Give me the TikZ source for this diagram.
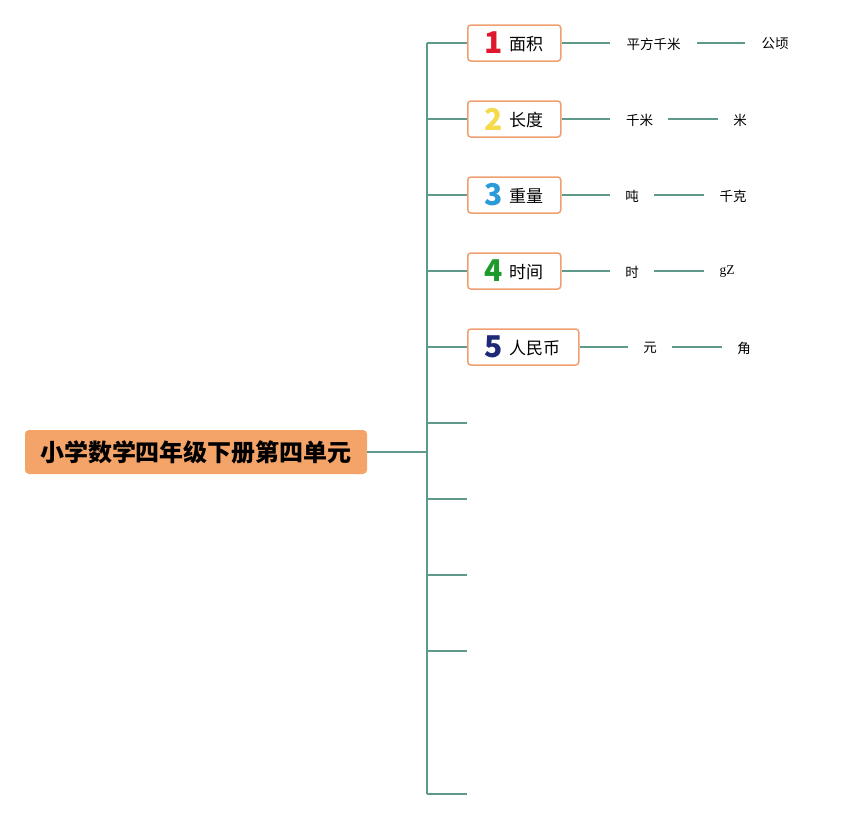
\documentclass[tikz,border=0pt]{standalone}
\usepackage{fontspec}
\setmainfont{Noto Sans CJK SC}
\newfontfamily\latinserif{Liberation Serif}
\definecolor{teal1}{HTML}{5E9A8C}
\definecolor{rootfill}{HTML}{F4A469}
\definecolor{boxborder}{HTML}{F0A070}
\definecolor{n1}{HTML}{E0182D}
\definecolor{n2}{HTML}{F5DA4C}
\definecolor{n3}{HTML}{2A9BD8}
\definecolor{n4}{HTML}{1C9A2C}
\definecolor{n5}{HTML}{1E2A78}
\tikzset{
  conn/.style={draw=teal1, line width=1.6pt},
  rootbox/.style={fill=rootfill, rounded corners=4pt, minimum width=342pt, minimum height=44pt, inner sep=0pt, font=\fontsize{24}{28}\selectfont\bfseries},
  topicbox/.style={draw=boxborder, line width=1.5pt, fill=white, rounded corners=3pt, minimum height=36pt, inner sep=0pt, anchor=west},
  leaf/.style={inner sep=0pt, font=\fontsize{13.5}{16}\selectfont},
  numtxt/.style={font=\fontsize{30}{32}\selectfont\bfseries},
  lbl/.style={font=\fontsize{17}{20}\selectfont}
}
\newcommand{\topiclabel}[3]{\makebox[#1pt][l]{\hspace{18pt}\raisebox{-1pt}{\textcolor{#2}{\fontsize{30}{32}\selectfont\bfseries\makebox[18pt][c]{#3}}}}}
\begin{document}
\begin{tikzpicture}[x=1pt,y=-1pt]
\useasboundingbox (0,0) rectangle (849,819);
% root
\node[rootbox] (root) at (196,452) {小学数学四年级下册第四单元};
% trunk
\coordinate (tj) at (427,452);
\coordinate (ttop) at (427,43);
\coordinate (tbot) at (427,794);
\draw[conn] (root.east) -- (tj);
\draw[conn] (ttop) -- (tbot);
% topics
\node[topicbox, minimum width=93pt] (b1) at (467,43) {};
\node[topicbox, minimum width=93pt] (b2) at (467,119) {};
\node[topicbox, minimum width=93pt] (b3) at (467,195) {};
\node[topicbox, minimum width=93pt] (b4) at (467,271) {};
\node[topicbox, minimum width=111pt] (b5) at (467,347) {};
\node[numtxt, text=n1] (d1) at (494,43) {1};
\node[numtxt, text=n2] (d2) at (494,119) {2};
\node[numtxt, text=n3] (d3) at (494,195) {3};
\node[numtxt, text=n4] (d4) at (494,271) {4};
\node[numtxt, text=n5] (d5) at (494,347) {5};
\node[lbl, anchor=west, inner sep=0pt] (l1) at (509,44) {面积};
\node[lbl, anchor=west, inner sep=0pt] (l2) at (509,120) {长度};
\node[lbl, anchor=west, inner sep=0pt] (l3) at (509,196) {重量};
\node[lbl, anchor=west, inner sep=0pt] (l4) at (509,272) {时间};
\node[lbl, anchor=west, inner sep=0pt] (l5) at (509,348) {人民币};
% branch coordinates
\foreach \i/\y in {1/43,2/119,3/195,4/271,5/347,6/423,7/499,8/575,9/651,10/794} {
  \coordinate (c\i) at (427,\y);
}
\foreach \i/\y in {6/423,7/499,8/575,9/651,10/794} {
  \coordinate (e\i) at (467,\y);
  \draw[conn] (c\i) -- (e\i);
}
\foreach \i in {1,...,5} { \draw[conn] (c\i) -- (b\i.west); }
% leaves row 1
\coordinate (p1a) at (610,43); \node[leaf] (s1) at (653.5,44) {平方千米};
\coordinate (p1b) at (697,43); \coordinate (p1c) at (745,43); \node[leaf] (t1) at (775,44) {公顷};
\draw[conn] (b1.east) -- (p1a); \draw[conn] (p1b) -- (p1c);
% row 2
\coordinate (p2a) at (610,119); \node[leaf] (s2) at (639.5,120) {千米};
\coordinate (p2b) at (668,119); \coordinate (p2c) at (718,119); \node[leaf] (t2) at (740,120) {米};
\draw[conn] (b2.east) -- (p2a); \draw[conn] (p2b) -- (p2c);
% row 3
\coordinate (p3a) at (610,195); \node[leaf] (s3) at (632,196) {吨};
\coordinate (p3b) at (654,195); \coordinate (p3c) at (704,195); \node[leaf] (t3) at (733,196) {千克};
\draw[conn] (b3.east) -- (p3a); \draw[conn] (p3b) -- (p3c);
% row 4
\coordinate (p4a) at (610,271); \node[leaf] (s4) at (632,272) {时};
\coordinate (p4b) at (654,271); \coordinate (p4c) at (704,271); \node[leaf, font=\latinserif\fontsize{13.5}{16}\selectfont] (t4) at (727,272) {gZ};
\draw[conn] (b4.east) -- (p4a); \draw[conn] (p4b) -- (p4c);
% row 5
\coordinate (p5a) at (628,347); \node[leaf] (s5) at (650,348) {元};
\coordinate (p5b) at (672,347); \coordinate (p5c) at (722,347); \node[leaf] (t5) at (744,348) {角};
\draw[conn] (b5.east) -- (p5a); \draw[conn] (p5b) -- (p5c);
\end{tikzpicture}
\end{document}
